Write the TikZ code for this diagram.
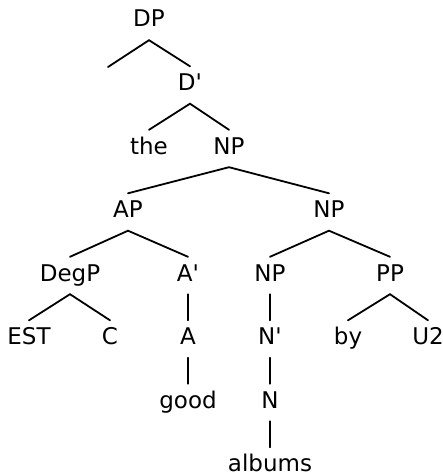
\documentclass[tikz,border=0pt]{standalone}
\usepackage{fontspec}
\setmainfont{DejaVu Sans}
\newcommand{\br}{\textquotesingle}
\begin{document}
\begin{tikzpicture}[x=1pt,y=-1pt,
  lab/.style={anchor=base,font=\fontsize{23}{27}\selectfont,
    text height=16pt,text depth=5pt,inner xsep=0pt,inner ysep=8pt},
  branch/.style={line width=1.8pt,line cap=round}]
\useasboundingbox (0,0) rectangle (443,476);
% labels, placed by their baselines
\node[lab] (dp)   at (149,27)    {DP};
\coordinate (spec) at (108,67);
\node[lab] (dbar) at (190,90.5)  {D\br};
\node[lab] (the)  at (149,154)   {the};
\node[lab] (np1)  at (229,154)   {NP};
\node[lab] (ap)   at (128,217.5) {AP};
\node[lab] (np2)  at (329,217.5) {NP};
\node[lab] (degp) at (70,281)    {DegP};
\node[lab] (abar) at (188,281)   {A\br};
\node[lab] (np3)  at (270,281)   {NP};
\node[lab] (pp)   at (390,281)   {PP};
\node[lab] (est)  at (29,344.5)  {EST};
\node[lab] (c)    at (110,344.5) {C};
\node[lab] (a)    at (188,344.5) {A};
\node[lab] (nbar) at (270,344.5) {N\br};
\node[lab] (by)   at (348,344.5) {by};
\node[lab] (u2)   at (428,344.5) {U2};
\node[lab] (good) at (188,408)   {good};
\node[lab] (n)    at (270,408)   {N};
\node[lab] (alb)  at (270,471.5) {albums};
% branches
\draw[branch] (spec) -- (dp.south) -- (dbar.north);
\draw[branch] (the.north) -- (dbar.south) -- (np1.north);
\draw[branch] (ap.north) -- (np1.south) -- (np2.north);
\draw[branch] (degp.north) -- (ap.south) -- (abar.north);
\draw[branch] (np3.north) -- (np2.south) -- (pp.north);
\draw[branch] (est.north) -- (degp.south) -- (c.north);
\draw[branch] (by.north) -- (pp.south) -- (u2.north);
\draw[branch] (abar.south) -- (a.north);
\draw[branch] (a.south) -- (good.north);
\draw[branch] (np3.south) -- (nbar.north);
\draw[branch] (nbar.south) -- (n.north);
\draw[branch] (n.south) -- (alb.north);
\end{tikzpicture}
\end{document}
